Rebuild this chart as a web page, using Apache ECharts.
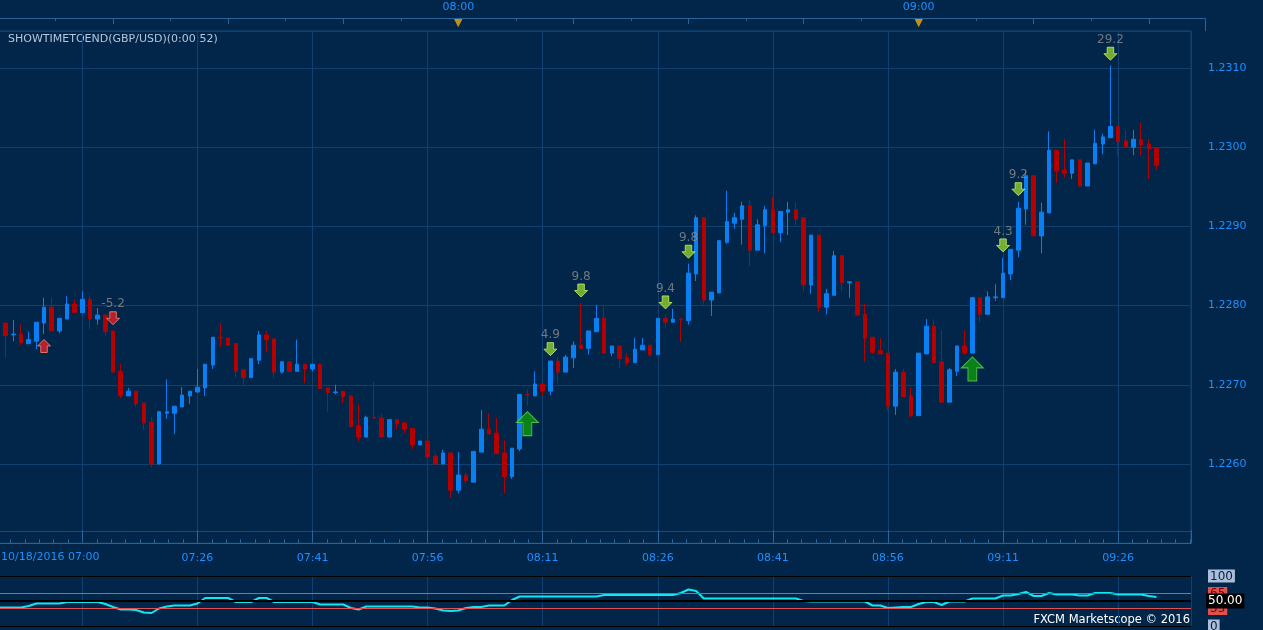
<!DOCTYPE html>
<html><head><meta charset="utf-8">
<script src="https://cdn.jsdelivr.net/npm/echarts@6/dist/echarts.min.js"></script>
<style>html,body{margin:0;padding:0;background:#012649;}#c{width:1263px;height:630px;}</style>
</head><body><div id="c"></div>
<script>
// 1-minute candles of GBP/USD starting 10/18/2016 07:00 (index = minutes after 07:00)
const openP=[1.22798,1.22778,1.22763,1.22764,1.22752,1.22755,1.22778,1.22798,1.22768,1.22783,
1.22802,1.22791,1.22808,1.22783,1.22788,1.22768,1.22717,1.22686,1.22692,1.22677,
1.22653,1.22600,1.22664,1.22664,1.22672,1.22686,1.22691,1.22696,1.22725,1.22760,
1.22759,1.22752,1.22719,1.22709,1.22731,1.22763,1.22758,1.22716,1.22729,1.22717,
1.22726,1.22720,1.22726,1.22696,1.22690,1.22692,1.22686,1.22648,1.22634,1.22659,
1.22658,1.22634,1.22656,1.22652,1.22645,1.22624,1.22629,1.22610,1.22600,1.22614,
1.22567,1.22586,1.22577,1.22615,1.22644,1.22639,1.22614,1.22584,1.22619,1.22688,
1.22686,1.22701,1.22692,1.22730,1.22716,1.22734,1.22750,1.22746,1.22767,1.22784,
1.22740,1.22749,1.22734,1.22728,1.22744,1.22750,1.22738,1.22784,1.22779,1.22783,
1.22781,1.22840,1.22911,1.22807,1.22816,1.22880,1.22904,1.22909,1.22926,1.22870,
1.22901,1.22921,1.22892,1.22918,1.22921,1.22911,1.22826,1.22889,1.22798,1.22813,
1.22863,1.22829,1.22830,1.22789,1.22760,1.22743,1.22740,1.22673,1.22716,1.22686,
1.22661,1.22739,1.22774,1.22729,1.22678,1.22717,1.22749,1.22740,1.22810,1.22789,
1.22810,1.22810,1.22840,1.22870,1.22922,1.22964,1.22888,1.22917,1.22996,1.22971,
1.22967,1.22984,1.22951,1.22979,1.23004,1.23012,1.23026,1.23008,1.23000,1.23010,1.23004,1.22999];
const closeP=[1.22778,1.22762,1.22764,1.22753,1.22757,1.22779,1.22798,1.22768,1.22784,1.22802,
1.22791,1.22808,1.22783,1.22788,1.22767,1.22716,1.22686,1.22692,1.22676,1.22652,
1.22600,1.22666,1.22666,1.22673,1.22687,1.22692,1.22697,1.22726,1.22760,1.22759,
1.22750,1.22717,1.22709,1.22733,1.22763,1.22757,1.22716,1.22729,1.22717,1.22726,
1.22720,1.22726,1.22695,1.22690,1.22691,1.22685,1.22647,1.22634,1.22659,1.22658,
1.22634,1.22656,1.22651,1.22644,1.22624,1.22629,1.22609,1.22600,1.22614,1.22567,
1.22586,1.22579,1.22616,1.22644,1.22638,1.22613,1.22584,1.22620,1.22688,1.22687,
1.22701,1.22692,1.22730,1.22716,1.22735,1.22750,1.22746,1.22768,1.22784,1.22740,
1.22749,1.22733,1.22728,1.22745,1.22750,1.22738,1.22784,1.22779,1.22783,1.22782,
1.22841,1.22911,1.22807,1.22817,1.22882,1.22906,1.22911,1.22926,1.22870,1.22902,
1.22921,1.22892,1.22919,1.22921,1.22909,1.22826,1.22889,1.22798,1.22815,1.22863,
1.22829,1.22830,1.22788,1.22759,1.22741,1.22739,1.22673,1.22716,1.22685,1.22661,
1.22740,1.22774,1.22728,1.22678,1.22719,1.22749,1.22740,1.22810,1.22789,1.22811,
1.22811,1.22841,1.22871,1.22923,1.22964,1.22888,1.22918,1.22996,1.22970,1.22967,
1.22984,1.22951,1.22980,1.23005,1.23013,1.23026,1.23007,1.23000,1.23010,1.23003,1.22998,1.22977];
const lowP=[1.22776,1.22735,1.22755,1.22750,1.22752,1.22745,1.22764,1.22768,1.22765,1.22783,
1.22791,1.22791,1.22770,1.22776,1.22762,1.22716,1.22683,1.22686,1.22672,1.22643,
1.22596,1.22600,1.22657,1.22638,1.22672,1.22676,1.22690,1.22686,1.22720,1.22748,
1.22750,1.22709,1.22698,1.22709,1.22726,1.22741,1.22709,1.22714,1.22715,1.22717,
1.22702,1.22717,1.22695,1.22666,1.22688,1.22677,1.22647,1.22628,1.22634,1.22657,
1.22634,1.22634,1.22644,1.22639,1.22619,1.22624,1.22604,1.22600,1.22600,1.22557,
1.22563,1.22576,1.22577,1.22615,1.22638,1.22613,1.22563,1.22581,1.22616,1.22673,
1.22686,1.22687,1.22687,1.22702,1.22716,1.22721,1.22746,1.22738,1.22767,1.22740,
1.22736,1.22721,1.22724,1.22728,1.22744,1.22735,1.22738,1.22773,1.22779,1.22754,
1.22776,1.22831,1.22801,1.22787,1.22816,1.22878,1.22897,1.22877,1.22850,1.22870,
1.22866,1.22892,1.22880,1.22889,1.22901,1.22818,1.22815,1.22792,1.22789,1.22813,
1.22818,1.22810,1.22788,1.22729,1.22739,1.22739,1.22667,1.22662,1.22685,1.22659,
1.22661,1.22739,1.22728,1.22678,1.22678,1.22711,1.22738,1.22740,1.22779,1.22789,
1.22806,1.22810,1.22832,1.22861,1.22902,1.22888,1.22866,1.22917,1.22955,1.22962,
1.22960,1.22951,1.22951,1.22979,1.22991,1.23012,1.22989,1.23000,1.22990,1.22989,1.22960,1.22971];
const highP=[1.22801,1.22778,1.22782,1.22776,1.22767,1.22779,1.22810,1.22810,1.22784,1.22812,
1.22808,1.22818,1.22812,1.22797,1.22788,1.22768,1.22726,1.22696,1.22692,1.22677,
1.22659,1.22667,1.22707,1.22673,1.22697,1.22692,1.22720,1.22726,1.22760,1.22778,
1.22759,1.22752,1.22719,1.22733,1.22768,1.22768,1.22758,1.22730,1.22729,1.22757,
1.22726,1.22726,1.22726,1.22696,1.22700,1.22692,1.22687,1.22676,1.22661,1.22704,
1.22664,1.22656,1.22656,1.22652,1.22645,1.22629,1.22629,1.22613,1.22618,1.22614,
1.22615,1.22589,1.22616,1.22668,1.22664,1.22658,1.22630,1.22620,1.22688,1.22695,
1.22717,1.22701,1.22730,1.22735,1.22738,1.22755,1.22803,1.22768,1.22801,1.22800,
1.22749,1.22749,1.22740,1.22759,1.22759,1.22750,1.22784,1.22788,1.22796,1.22784,
1.22853,1.22914,1.22911,1.22817,1.22882,1.22945,1.22917,1.22931,1.22933,1.22909,
1.22926,1.22937,1.22919,1.22931,1.22930,1.22911,1.22889,1.22889,1.22821,1.22869,
1.22863,1.22830,1.22830,1.22802,1.22760,1.22759,1.22740,1.22720,1.22720,1.22697,
1.22740,1.22783,1.22783,1.22769,1.22721,1.22749,1.22769,1.22811,1.22810,1.22818,
1.22827,1.22860,1.22871,1.22931,1.22969,1.22964,1.22930,1.23020,1.22996,1.23010,
1.22984,1.22984,1.22980,1.23022,1.23017,1.23103,1.23026,1.23022,1.23022,1.23031,1.23010,1.22999];
// oscillator (0-100) per candle
const oscValues=[37,37,37,37,40,45,45,45,45,48,48,48,48,48,44,38,33,33,32,27,
26,35,39,41,41,41,45,56,56,56,56,48,48,48,56,56,48,48,48,48,
48,48,43,43,43,43,36,33,39,39,39,39,39,39,39,37,37,35,31,30,
31,36,38,38,41,41,41,52,59,59,59,59,59,59,59,59,59,59,59,62,
62,62,62,62,62,62,62,62,62,66,73,70,55,55,55,55,55,55,55,55,
55,55,55,55,55,50,49,49,49,49,49,49,49,49,41,41,36,37,38,38,
44,48,48,42,49,49,49,55,55,55,55,61,61,64,68,60,60,66,63,63,
63,61,61,66,66,66,63,63,63,63,60,58];
const oscLevels=[100,65,50,35,0];
// signal markers
const sigIndex=[6,15,72,76,87,90,131,133,145,69,127];
const sigPrice=[1.22749,1.22784,1.22745,1.22819,1.22804,1.22868,1.22876,1.22947,1.23118,1.22651,1.22720];
const sigText=['','-5.2','4.9','9.8','9.4','9.8','4.3','9.2','29.2','',''];
const sigKind=['redUp','redDown','greenDown','greenDown','greenDown','greenDown','greenDown','greenDown','greenDown','bigUp','bigUp'];
const topLabelValues=[60,120];
const topLabelText=['08:00','09:00'];

const FONT='DejaVu Sans';
const AX='#28649a', GRID='#12406e', LBL='#1e90ff';
function hhmm(t){const m=420+t;const h=Math.floor(m/60),mm=m%60;return (h<10?'0':'')+h+':'+(mm<10?'0':'')+mm;}
const candles=openP.map((o,i)=>[i,o,closeP[i],lowP[i],highP[i]]);
const shapes={
 greenDown:{symbol:'path://M3,0 L9,0 L9,6 L12,6 L6,12 L0,6 L3,6 Z',size:[13,13],color:'#8fcf2a',border:'#c8f06a'},
 redDown:{symbol:'path://M3,0 L9,0 L9,6 L12,6 L6,12 L0,6 L3,6 Z',size:[13,13],color:'#e2202a',border:'#ff8a6a'},
 redUp:{symbol:'path://M6,0 L12,6 L9,6 L9,12 L3,12 L3,6 L0,6 Z',size:[13,13],color:'#e2202a',border:'#ff8a6a'},
 bigUp:{symbol:'path://M10,0 L20,10 L14,10 L14,22 L6,22 L6,10 L0,10 Z',size:[22,24],color:'#0b9a0b',border:'#5fd35f'}
};
const sigData=sigIndex.map((ix,k)=>{const s=shapes[sigKind[k]];return {value:[ix,sigPrice[k]],symbol:s.symbol,symbolSize:s.size,
 itemStyle:{color:s.color,borderColor:s.border,borderWidth:1},
 label:{show:sigText[k]!=='',formatter:sigText[k],position:'top',distance:1,color:'#8c8c8c',fontSize:12,fontFamily:FONT}};});
const tick7=[];for(let t=7.5;t<155;t+=15)tick7.push(t);
const tick15=[];for(let t=0;t<155;t+=15)tick15.push(t);

const chart=echarts.init(document.getElementById('c'),null,{renderer:'canvas'});
const lastClose=closeP[closeP.length-1];
chart.setOption({
 animation:false,backgroundColor:'#012649',
 textStyle:{fontFamily:FONT},
 grid:[
  {left:-32.7,right:72,top:31,bottom:86.8,show:true,backgroundColor:'#012649',borderColor:'#1a4a7a',borderWidth:1,containLabel:false,outerBoundsMode:'none'},
  {left:-32.7,right:72,top:576,height:50,show:false,containLabel:false,outerBoundsMode:'none'}
 ],
 xAxis:[
  {type:'value',gridIndex:0,min:-4,max:155.5,interval:15,position:'bottom',
   axisLine:{show:true,lineStyle:{color:AX}},axisTick:{show:true,inside:true,length:13,lineStyle:{color:AX}},
   minorTick:{show:true,splitNumber:8,length:4,lineStyle:{color:AX}},
   splitLine:{show:true,lineStyle:{color:GRID,width:1}},
   axisLabel:{show:true,margin:9,color:LBL,fontSize:11,fontFamily:FONT,showMaxLabel:false,showMinLabel:false,
    formatter:v=>((v<20||v>150||v%1!==0)?'':hhmm(v))}},
  {type:'value',gridIndex:0,min:-4,max:155.5,position:'top',offset:13,
   axisLine:{show:true,lineStyle:{color:AX}},axisTick:{show:true,inside:true,length:3,customValues:tick7,lineStyle:{color:AX}},
   splitLine:{show:false},
   axisLabel:{show:true,customValues:topLabelValues,margin:5,color:LBL,fontSize:11,fontFamily:FONT,formatter:v=>topLabelText[topLabelValues.indexOf(v)]||''}},
  {type:'value',gridIndex:0,min:-4,max:155.5,position:'top',offset:13,
   axisLine:{show:false},axisTick:{show:true,inside:true,length:6,customValues:tick15,lineStyle:{color:AX}},
   splitLine:{show:false},axisLabel:{show:false}},
  {type:'value',gridIndex:0,min:-4,max:155.5,position:'top',offset:0,
   axisLine:{show:false},axisTick:{show:false},splitLine:{show:false},
   axisLabel:{show:true,customValues:topLabelValues,margin:2,color:'#c08f1c',fontSize:11,fontFamily:FONT,formatter:()=>'▼'}},
  {type:'value',gridIndex:1,min:-4,max:155.5,interval:15,
   axisLine:{show:false},axisTick:{show:false},axisLabel:{show:false},
   splitLine:{show:true,lineStyle:{color:GRID,width:1}}}
 ],
 yAxis:[
  {type:'value',gridIndex:0,position:'right',offset:14,min:1.2250,max:1.231467,interval:0.001,
   axisLine:{show:true,lineStyle:{color:AX}},axisTick:{show:true,inside:true,length:14,lineStyle:{color:AX}},
   splitLine:{show:true,lineStyle:{color:GRID,width:1}},
   axisLabel:{show:true,margin:3,color:LBL,fontSize:11,fontFamily:FONT,showMinLabel:false,showMaxLabel:false,formatter:v=>v.toFixed(4)}},
  {type:'value',gridIndex:0,position:'right',offset:14,min:1.2250,max:1.231467,interval:0.0001,
   axisLine:{show:false},axisTick:{show:true,inside:true,length:3,lineStyle:{color:AX}},splitLine:{show:false},axisLabel:{show:false}},
  {type:'value',gridIndex:0,position:'right',offset:14,min:1.2250,max:1.231467,interval:0.0005,
   axisLine:{show:false},axisTick:{show:true,inside:true,length:7,lineStyle:{color:AX}},splitLine:{show:false},axisLabel:{show:false}},
  {type:'value',gridIndex:1,position:'right',offset:14,min:0,max:100,interval:25,
   axisLine:{show:true,lineStyle:{color:AX}},axisTick:{show:true,inside:true,length:3,lineStyle:{color:AX}},splitLine:{show:false},
   axisLabel:{show:true,customValues:[0,35,65,100],margin:3,fontSize:12,fontFamily:FONT,
    formatter:v=>(v===100?'{hi|100}':v===0?'{hi|0}':'{rd|'+v+'}'),
    rich:{hi:{backgroundColor:'#a9bedb',color:'#0b1d33',padding:[1,2,0,2],fontSize:12,fontFamily:FONT},
          rd:{backgroundColor:'#e2504c',color:'#7a0000',padding:[1,2,0,2],fontSize:12,fontFamily:FONT}}}}
 ],
 series:[
  {type:'candlestick',xAxisIndex:0,yAxisIndex:0,data:candles,encode:{x:0,y:[1,2,3,4]},barWidth:4,
   itemStyle:{color:'#0a7ff2',color0:'#b50000',borderColor:'#0a7ff2',borderColor0:'#b50000',borderWidth:1},
   markLine:{silent:true,symbol:'none',animation:false,lineStyle:{opacity:0},
    data:[{yAxis:lastClose}],
    label:{show:true,position:'end',distance:15,formatter:()=>lastClose.toFixed(5),backgroundColor:'#4ea6f5',color:'#04101f',fontSize:12,fontFamily:FONT,padding:[2,2,1,2]}}},
  {type:'scatter',xAxisIndex:0,yAxisIndex:0,data:sigData,z:5},
  {type:'line',xAxisIndex:4,yAxisIndex:3,data:oscValues.map((v,i)=>[i,v]),showSymbol:false,symbol:'none',
   lineStyle:{color:'#12e6f0',width:2},z:4,
   markLine:{silent:true,symbol:'none',animation:false,
    data:oscLevels.map(l=>({yAxis:l,
      lineStyle:{color:(l===65||l===35)?'#e05050':'#000000',width:l===50?2:1,type:'solid'},
      label:{show:l===50,position:'end',distance:15,formatter:'50.00',backgroundColor:'#000',color:'#fff',fontSize:12,fontFamily:FONT,padding:[2,2,1,2]}}))}}
 ],
 graphic:[
  {type:'text',left:8,top:34,style:{text:'SHOWTIMETOEND(GBP/USD)(0:00:52)',fill:'#b4c6dc',font:'11px "DejaVu Sans"'}},
  {type:'text',left:1,top:552,style:{text:'10/18/2016 07:00',fill:LBL,font:'11px "DejaVu Sans"'}},
  {type:'text',right:73,top:614,style:{text:'FXCM Marketscope © 2016',fill:'#ffffff',font:'11.5px "DejaVu Sans"'}},
  {type:'line',shape:{x1:0,y1:531.5,x2:1191,y2:531.5},style:{stroke:'#1a4a7a',lineWidth:1}},
  {type:'line',shape:{x1:1191,y1:18.5,x2:1205.5,y2:18.5},style:{stroke:AX,lineWidth:1}},
  {type:'line',shape:{x1:1205.5,y1:18.5,x2:1205.5,y2:31},style:{stroke:AX,lineWidth:1}}
 ]
});
</script></body></html>
